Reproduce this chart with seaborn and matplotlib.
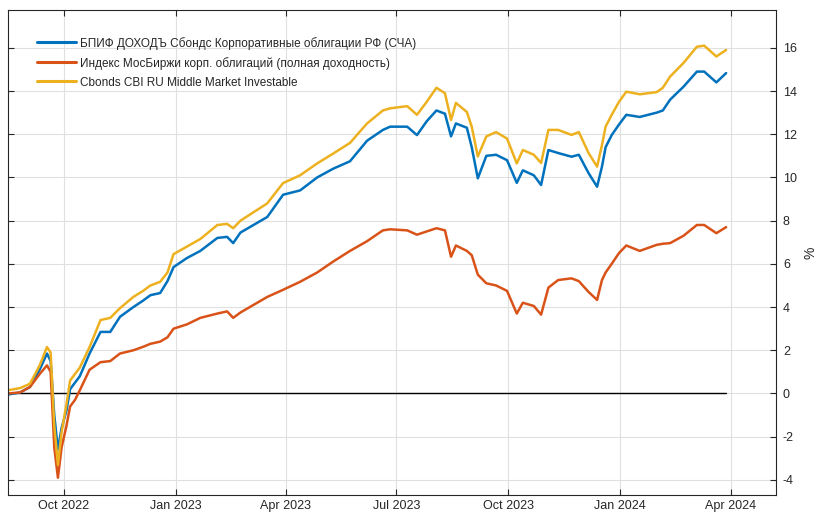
import numpy as np
import pandas as pd
import seaborn as sns
import matplotlib.pyplot as plt
import matplotlib.dates as mdates

dates = pd.to_datetime([
    "2022-08-16", "2022-08-26", "2022-09-03", "2022-09-11", "2022-09-17",
    "2022-09-20", "2022-09-23", "2022-09-26", "2022-09-29", "2022-10-03",
    "2022-10-06", "2022-10-10", "2022-10-14", "2022-10-22", "2022-10-31",
    "2022-11-08", "2022-11-16", "2022-11-27", "2022-12-05", "2022-12-11",
    "2022-12-19", "2022-12-25", "2022-12-30", "2023-01-10", "2023-01-21",
    "2023-02-04", "2023-02-12", "2023-02-17", "2023-02-23", "2023-03-17",
    "2023-03-30", "2023-04-13", "2023-04-27", "2023-05-10", "2023-05-24",
    "2023-06-07", "2023-06-20", "2023-06-26", "2023-07-10", "2023-07-18",
    "2023-07-26", "2023-08-03", "2023-08-10", "2023-08-15", "2023-08-19",
    "2023-08-28", "2023-09-01", "2023-09-06", "2023-09-13", "2023-09-21",
    "2023-09-30", "2023-10-08", "2023-10-13", "2023-10-22", "2023-10-28",
    "2023-11-03", "2023-11-11", "2023-11-22", "2023-11-28", "2023-12-06",
    "2023-12-13", "2023-12-17", "2023-12-20", "2023-12-25", "2023-12-31",
    "2024-01-06", "2024-01-17", "2024-01-31", "2024-02-05", "2024-02-11",
    "2024-02-22", "2024-03-04", "2024-03-10", "2024-03-20", "2024-03-28",
])

fund = [  # БПИФ ДОХОДЪ
    -0.05, 0.05, 0.3, 1.1, 1.85, 1.5, -1.0, -2.6, -1.6, -0.8,
    0.2, 0.5, 0.8, 1.85, 2.85, 2.85, 3.55, 4.0, 4.3, 4.55,
    4.65, 5.2, 5.85, 6.27, 6.6, 7.2, 7.25, 6.96, 7.45, 8.17,
    9.2, 9.4, 10.0, 10.4, 10.75, 11.7, 12.2, 12.35, 12.35, 11.96,
    12.6, 13.1, 12.95, 11.9, 12.5, 12.3, 11.4, 9.96, 11.0, 11.05,
    10.8, 9.75, 10.33, 10.1, 9.65, 11.27, 11.13, 10.96, 11.05, 10.2,
    9.57, 10.5, 11.4, 11.96, 12.45, 12.9, 12.8, 13.0, 13.1, 13.6,
    14.2, 14.9, 14.9, 14.4, 14.83,
]

moex = [  # Индекс МосБиржи корп. облигаций
    0.0, 0.05, 0.3, 0.9, 1.3, 1.0, -2.5, -3.9, -2.5, -1.5,
    -0.6, -0.3, 0.15, 1.1, 1.45, 1.5, 1.85, 2.0, 2.16, 2.3,
    2.4, 2.6, 3.0, 3.2, 3.5, 3.7, 3.8, 3.5, 3.75, 4.47,
    4.8, 5.17, 5.6, 6.1, 6.6, 7.05, 7.55, 7.6, 7.55, 7.35,
    7.5, 7.65, 7.55, 6.33, 6.85, 6.6, 6.4, 5.5, 5.1, 5.0,
    4.75, 3.7, 4.2, 4.05, 3.65, 4.9, 5.25, 5.33, 5.2, 4.7,
    4.33, 5.25, 5.6, 6.0, 6.5, 6.85, 6.6, 6.88, 6.93, 6.96,
    7.3, 7.8, 7.8, 7.42, 7.7,
]

cbonds = [  # Cbonds CBI RU Middle Market Investable
    0.15, 0.25, 0.45, 1.3, 2.15, 1.9, -1.5, -3.3, -1.8, -0.5,
    0.6, 0.9, 1.2, 2.15, 3.4, 3.5, 3.95, 4.47, 4.75, 5.0,
    5.17, 5.6, 6.45, 6.8, 7.15, 7.8, 7.85, 7.65, 8.0, 8.8,
    9.74, 10.1, 10.65, 11.1, 11.6, 12.5, 13.1, 13.2, 13.3, 12.9,
    13.5, 14.15, 13.9, 12.66, 13.45, 13.03, 12.35, 10.97, 11.9, 12.1,
    11.8, 10.65, 11.27, 11.05, 10.67, 12.2, 12.2, 11.97, 12.1, 11.13,
    10.5, 11.5, 12.35, 12.9, 13.5, 13.97, 13.85, 13.95, 14.15, 14.67,
    15.3, 16.05, 16.1, 15.6, 15.9,
]

labels = [
    "БПИФ ДОХОДЪ Сбондс Корпоративные облигации РФ (СЧА)",
    "Индекс МосБиржи корп. облигаций (полная доходность)",
    "Cbonds CBI RU Middle Market Investable",
]
colors = ["#0072BD", "#D95319", "#EDB120"]

df = pd.concat([
    pd.DataFrame({"date": dates, "value": vals, "series": lab})
    for lab, vals in zip(labels, [fund, moex, cbonds])
])

sns.set_style("white")
plt.rcParams["font.family"] = ["Liberation Sans", "DejaVu Sans"]
plt.rcParams["axes.unicode_minus"] = False

fig = plt.figure(figsize=(8.19, 5.19), dpi=100)
ax = fig.add_axes([0.0098, 0.0462, 0.9377, 0.9345])

ax.plot(dates, np.zeros(len(dates)), color="black", lw=1.0, zorder=1)
sns.lineplot(data=df, x="date", y="value", hue="series", hue_order=labels,
             palette=colors, linewidth=1.8, ax=ax, zorder=2)

ax.set_xlim(pd.Timestamp("2022-08-16"), pd.Timestamp("2024-05-08"))
ax.set_ylim(-4.7, 17.75)
ax.set_yticks(np.arange(-4, 17, 2))
ax.xaxis.set_major_locator(mdates.MonthLocator(bymonth=[1, 4, 7, 10]))
ax.xaxis.set_major_formatter(mdates.DateFormatter("%b %Y"))

ax.yaxis.tick_right()
ax.yaxis.set_label_position("right")
ax.tick_params(which="both", direction="in", length=4, width=0.8,
               top=True, bottom=True, left=True, right=True,
               labelleft=False, labelright=True, labelsize=9,
               colors="#262626", labelcolor="#262626")
ax.tick_params(axis="y", pad=5)
ax.set_xlabel("")
ax.set_ylabel("%", fontsize=10, color="#262626", labelpad=5)
ax.grid(True, color="#e0e0e0", lw=0.8)
for s in ax.spines.values():
    s.set_color("#262626")
    s.set_linewidth(0.8)

leg = ax.legend(loc="upper left", frameon=False, fontsize=8.5,
                handlelength=3.3, handletextpad=0.35, labelspacing=0.6,
                bbox_to_anchor=(0.032, 0.955), borderaxespad=0)
for line in leg.get_lines():
    line.set_linewidth(2.2)

fig.savefig("out.png", dpi=100)
